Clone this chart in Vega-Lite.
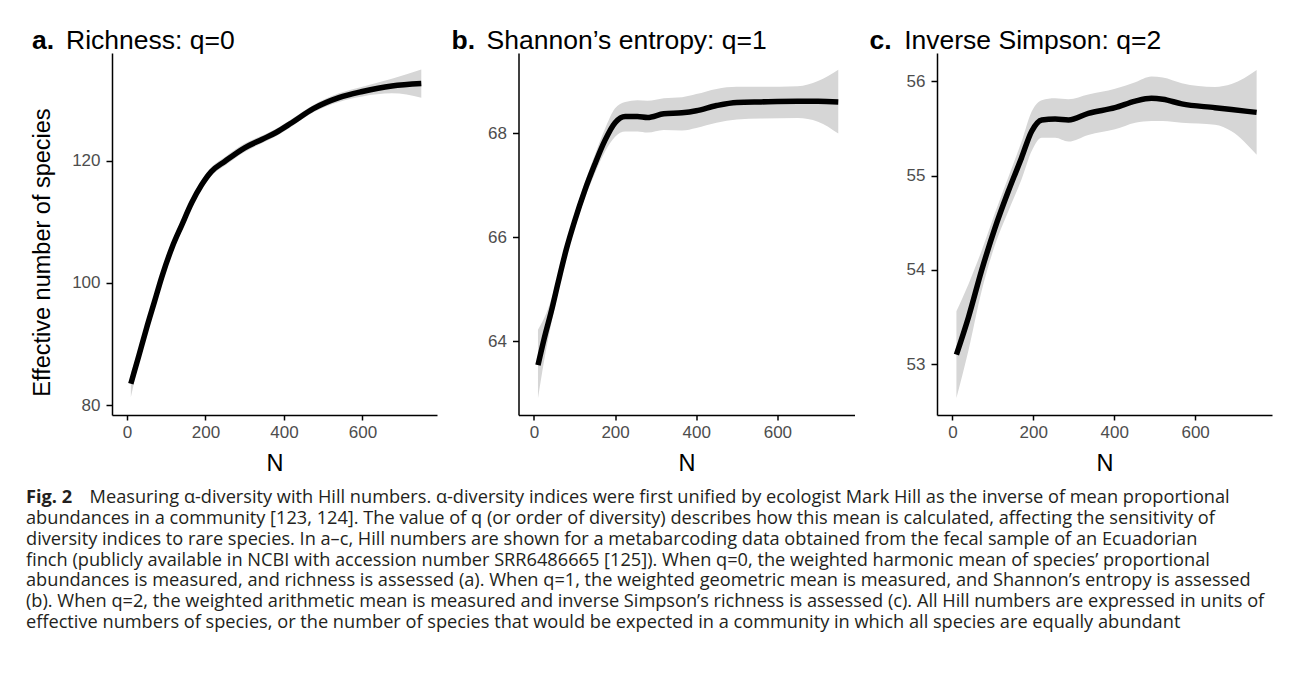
{
  "$schema": "https://vega.github.io/schema/vega-lite/v6.json",
  "background": "white",
  "autosize": {"type": "pad"},
  "padding": {"left": 26, "top": 27, "right": 5, "bottom": 5},
  "config": {
    "font": "Liberation Sans",
    "view": {"stroke": null},
    "axis": {
      "grid": false, "domainColor": "black", "domainWidth": 1.5, "tickColor": "black", "tickWidth": 1.5, "tickSize": 6,
      "labelFont": "Liberation Sans", "labelFontSize": 17, "labelColor": "#4d4d4d", "labelPadding": 6,
      "titleFont": "Liberation Sans", "titleFontSize": 23.5, "titleFontWeight": "normal", "titleColor": "black"
    },
    "axisBottom": {"titlePadding": 11, "tickSize": 5, "labelPadding": 4},
    "axisY": {"titlePadding": 17},
    "title": {"anchor": "start", "frame": "group", "fontSize": 26.5, "fontWeight": "bold", "font": "Liberation Sans", "color": "black", "baseline": "alphabetic", "offset": -27}
  },
  "datasets": {
    "a": [
      {"N": 10, "y": 83.5, "lo": 81.3, "hi": 85.3},
      {"N": 30, "y": 88.0, "lo": 87.0, "hi": 89.0},
      {"N": 50, "y": 92.6, "lo": 92.0, "hi": 93.2},
      {"N": 70, "y": 96.9, "lo": 96.3, "hi": 97.5},
      {"N": 90, "y": 101.2, "lo": 100.6, "hi": 101.8},
      {"N": 115, "y": 105.8, "lo": 105.2, "hi": 106.4},
      {"N": 140, "y": 109.5, "lo": 108.9, "hi": 110.1},
      {"N": 165, "y": 113.1, "lo": 112.5, "hi": 113.7},
      {"N": 190, "y": 116.0, "lo": 115.3, "hi": 116.7},
      {"N": 215, "y": 118.2, "lo": 117.5, "hi": 118.9},
      {"N": 250, "y": 119.9, "lo": 119.2, "hi": 120.6},
      {"N": 300, "y": 122.1, "lo": 121.4, "hi": 122.8},
      {"N": 345, "y": 123.5, "lo": 122.9, "hi": 124.1},
      {"N": 380, "y": 124.6, "lo": 124.0, "hi": 125.2},
      {"N": 420, "y": 126.2, "lo": 125.6, "hi": 126.8},
      {"N": 475, "y": 128.5, "lo": 127.9, "hi": 129.1},
      {"N": 540, "y": 130.3, "lo": 129.6, "hi": 131.0},
      {"N": 600, "y": 131.3, "lo": 130.5, "hi": 132.1},
      {"N": 675, "y": 132.2, "lo": 131.0, "hi": 133.4},
      {"N": 750, "y": 132.6, "lo": 130.3, "hi": 134.9}
    ],
    "b": [
      {"N": 10, "y": 63.54, "lo": 62.90, "hi": 64.22},
      {"N": 25, "y": 64.04, "lo": 63.62, "hi": 64.44},
      {"N": 45, "y": 64.64, "lo": 64.42, "hi": 64.86},
      {"N": 60, "y": 65.14, "lo": 64.98, "hi": 65.30},
      {"N": 80, "y": 65.77, "lo": 65.63, "hi": 65.91},
      {"N": 100, "y": 66.30, "lo": 66.16, "hi": 66.44},
      {"N": 125, "y": 66.89, "lo": 66.74, "hi": 67.04},
      {"N": 150, "y": 67.40, "lo": 67.22, "hi": 67.58},
      {"N": 175, "y": 67.86, "lo": 67.64, "hi": 68.08},
      {"N": 200, "y": 68.20, "lo": 67.93, "hi": 68.48},
      {"N": 225, "y": 68.32, "lo": 68.03, "hi": 68.60},
      {"N": 255, "y": 68.32, "lo": 68.03, "hi": 68.63},
      {"N": 280, "y": 68.30, "lo": 68.01, "hi": 68.62},
      {"N": 320, "y": 68.37, "lo": 68.06, "hi": 68.67},
      {"N": 365, "y": 68.39, "lo": 68.05, "hi": 68.69},
      {"N": 400, "y": 68.43, "lo": 68.10, "hi": 68.75},
      {"N": 450, "y": 68.53, "lo": 68.20, "hi": 68.85},
      {"N": 500, "y": 68.59, "lo": 68.26, "hi": 68.89},
      {"N": 560, "y": 68.60, "lo": 68.28, "hi": 68.89},
      {"N": 650, "y": 68.61, "lo": 68.29, "hi": 68.90},
      {"N": 700, "y": 68.61, "lo": 68.22, "hi": 69.00},
      {"N": 750, "y": 68.60, "lo": 67.99, "hi": 69.22}
    ],
    "c": [
      {"N": 10, "y": 53.10, "lo": 52.64, "hi": 53.56},
      {"N": 40, "y": 53.50, "lo": 53.15, "hi": 53.85},
      {"N": 72, "y": 53.99, "lo": 53.77, "hi": 54.20},
      {"N": 105, "y": 54.44, "lo": 54.26, "hi": 54.60},
      {"N": 138, "y": 54.83, "lo": 54.62, "hi": 54.98},
      {"N": 171, "y": 55.19, "lo": 54.96, "hi": 55.36},
      {"N": 196, "y": 55.47, "lo": 55.26, "hi": 55.68},
      {"N": 221, "y": 55.59, "lo": 55.40, "hi": 55.80},
      {"N": 254, "y": 55.60, "lo": 55.40, "hi": 55.82},
      {"N": 287, "y": 55.59, "lo": 55.36, "hi": 55.81},
      {"N": 336, "y": 55.66, "lo": 55.43, "hi": 55.86},
      {"N": 402, "y": 55.72, "lo": 55.49, "hi": 55.92},
      {"N": 452, "y": 55.79, "lo": 55.56, "hi": 55.99},
      {"N": 492, "y": 55.82, "lo": 55.58, "hi": 56.05},
      {"N": 520, "y": 55.81, "lo": 55.58, "hi": 56.04},
      {"N": 567, "y": 55.76, "lo": 55.56, "hi": 55.98},
      {"N": 649, "y": 55.72, "lo": 55.54, "hi": 55.94},
      {"N": 690, "y": 55.70, "lo": 55.47, "hi": 55.97},
      {"N": 752, "y": 55.67, "lo": 55.22, "hi": 56.12}
    ],
    "cap": [
      {"line": 1, "part": "lead", "text": "Fig. 2"},
      {"line": 1, "part": "first", "text": "Measuring α-diversity with Hill numbers. α-diversity indices were first unified by ecologist Mark Hill as the inverse of mean proportional"},
      {"line": 2, "part": "body", "text": "abundances in a community [123, 124]. The value of q (or order of diversity) describes how this mean is calculated, affecting the sensitivity of"},
      {"line": 3, "part": "body", "text": "diversity indices to rare species. In a–c, Hill numbers are shown for a metabarcoding data obtained from the fecal sample of an Ecuadorian"},
      {"line": 4, "part": "body", "text": "finch (publicly available in NCBI with accession number SRR6486665 [125]). When q=0, the weighted harmonic mean of species’ proportional"},
      {"line": 5, "part": "body", "text": "abundances is measured, and richness is assessed (a). When q=1, the weighted geometric mean is measured, and Shannon’s entropy is assessed"},
      {"line": 6, "part": "body", "text": "(b). When q=2, the weighted arithmetic mean is measured and inverse Simpson’s richness is assessed (c). All Hill numbers are expressed in units of"},
      {"line": 7, "part": "body", "text": "effective numbers of species, or the number of species that would be expected in a community in which all species are equally abundant"}
    ]
  },
  "spacing": 13,
  "vconcat": [
    {
      "spacing": 14.5,
      "hconcat": [
        {
          "width": 325, "height": 362,
          "title": {"text": "a.", "dx": -80},
          "data": {"name": "a"},
          "resolve": {"axis": {"x": "independent"}},
          "layer": [
            {"mark": {"type": "area", "color": "#d6d6d6", "interpolate": "monotone"},
             "encoding": {
               "x": {"field": "N", "type": "quantitative", "title": "N", "scale": {"domain": [-38, 790], "nice": false, "zero": false}, "axis": {"values": [0, 200, 400, 600]}},
               "y": {"field": "lo", "type": "quantitative", "title": "Effective number of species", "scale": {"domain": [78.4, 137.6], "nice": false, "zero": false}, "axis": {"values": [80, 100, 120], "format": "d", "titleY": 199}},
               "y2": {"field": "hi"}}},
            {"mark": {"type": "line", "color": "black", "strokeWidth": 5.5, "interpolate": "monotone"},
             "encoding": {
               "x": {"field": "N", "type": "quantitative", "title": "Richness: q=0", "axis": {"orient": "top", "values": [], "labels": false, "ticks": false, "domain": false, "titleX": -46.5, "titleY": -5, "titleAlign": "left", "titleAnchor": "start", "titleBaseline": "alphabetic", "titleFontSize": 26.5, "titlePadding": 0}},
               "y": {"field": "y", "type": "quantitative", "title": "Effective number of species"}}}
          ]
        },
        {
          "width": 336, "height": 362,
          "title": {"text": "b.", "dx": -67},
          "data": {"name": "b"},
          "resolve": {"axis": {"x": "independent"}},
          "layer": [
            {"mark": {"type": "area", "color": "#d6d6d6", "interpolate": "monotone"},
             "encoding": {
               "x": {"field": "N", "type": "quantitative", "title": "N", "scale": {"domain": [-38, 790], "nice": false, "zero": false}, "axis": {"values": [0, 200, 400, 600]}},
               "y": {"field": "lo", "type": "quantitative", "title": null, "scale": {"domain": [62.58, 69.54], "nice": false, "zero": false}, "axis": {"values": [64, 66, 68], "format": "d"}},
               "y2": {"field": "hi"}}},
            {"mark": {"type": "line", "color": "black", "strokeWidth": 5.5, "interpolate": "monotone"},
             "encoding": {
               "x": {"field": "N", "type": "quantitative", "title": "Shannon’s entropy: q=1", "axis": {"orient": "top", "values": [], "labels": false, "ticks": false, "domain": false, "titleX": -32.4, "titleY": -5, "titleAlign": "left", "titleAnchor": "start", "titleBaseline": "alphabetic", "titleFontSize": 26.5, "titlePadding": 0}},
               "y": {"field": "y", "type": "quantitative", "title": null}}}
          ]
        },
        {
          "width": 335, "height": 362,
          "title": {"text": "c.", "dx": -67.5},
          "data": {"name": "c"},
          "resolve": {"axis": {"x": "independent"}},
          "layer": [
            {"mark": {"type": "area", "color": "#d6d6d6", "interpolate": "monotone"},
             "encoding": {
               "x": {"field": "N", "type": "quantitative", "title": "N", "scale": {"domain": [-38, 790], "nice": false, "zero": false}, "axis": {"values": [0, 200, 400, 600]}},
               "y": {"field": "lo", "type": "quantitative", "title": null, "scale": {"domain": [52.46, 56.30], "nice": false, "zero": false}, "axis": {"values": [53, 54, 55, 56], "format": "d"}},
               "y2": {"field": "hi"}}},
            {"mark": {"type": "line", "color": "black", "strokeWidth": 5.5, "interpolate": "monotone"},
             "encoding": {
               "x": {"field": "N", "type": "quantitative", "title": "Inverse Simpson: q=2", "axis": {"orient": "top", "values": [], "labels": false, "ticks": false, "domain": false, "titleX": -33.3, "titleY": -5, "titleAlign": "left", "titleAnchor": "start", "titleBaseline": "alphabetic", "titleFontSize": 26.5, "titlePadding": 0}},
               "y": {"field": "y", "type": "quantitative", "title": null}}}
          ]
        }
      ]
    },
    {
      "width": 1180, "height": 145,
      "data": {"name": "cap"},
      "encoding": {
        "y": {"field": "line", "type": "ordinal", "axis": null, "scale": {"paddingInner": 0, "paddingOuter": 0}},
        "x": {"datum": 0, "type": "quantitative", "scale": {"domain": [0, 1]}, "axis": null},
        "text": {"field": "text"}
      },
      "layer": [
        {"transform": [{"filter": "datum.part == 'body'"}],
         "mark": {"type": "text", "align": "left", "baseline": "middle", "font": "Open Sans", "fontSize": 18.2, "color": "#231f20", "dx": -86}},
        {"transform": [{"filter": "datum.part == 'first'"}],
         "mark": {"type": "text", "align": "left", "baseline": "middle", "font": "Open Sans", "fontSize": 18.2, "color": "#231f20", "dx": -22.4}},
        {"transform": [{"filter": "datum.part == 'lead'"}],
         "mark": {"type": "text", "align": "left", "baseline": "middle", "font": "Open Sans", "fontSize": 18.2, "fontWeight": "bold", "color": "#231f20", "dx": -86}}
      ]
    }
  ]
}
